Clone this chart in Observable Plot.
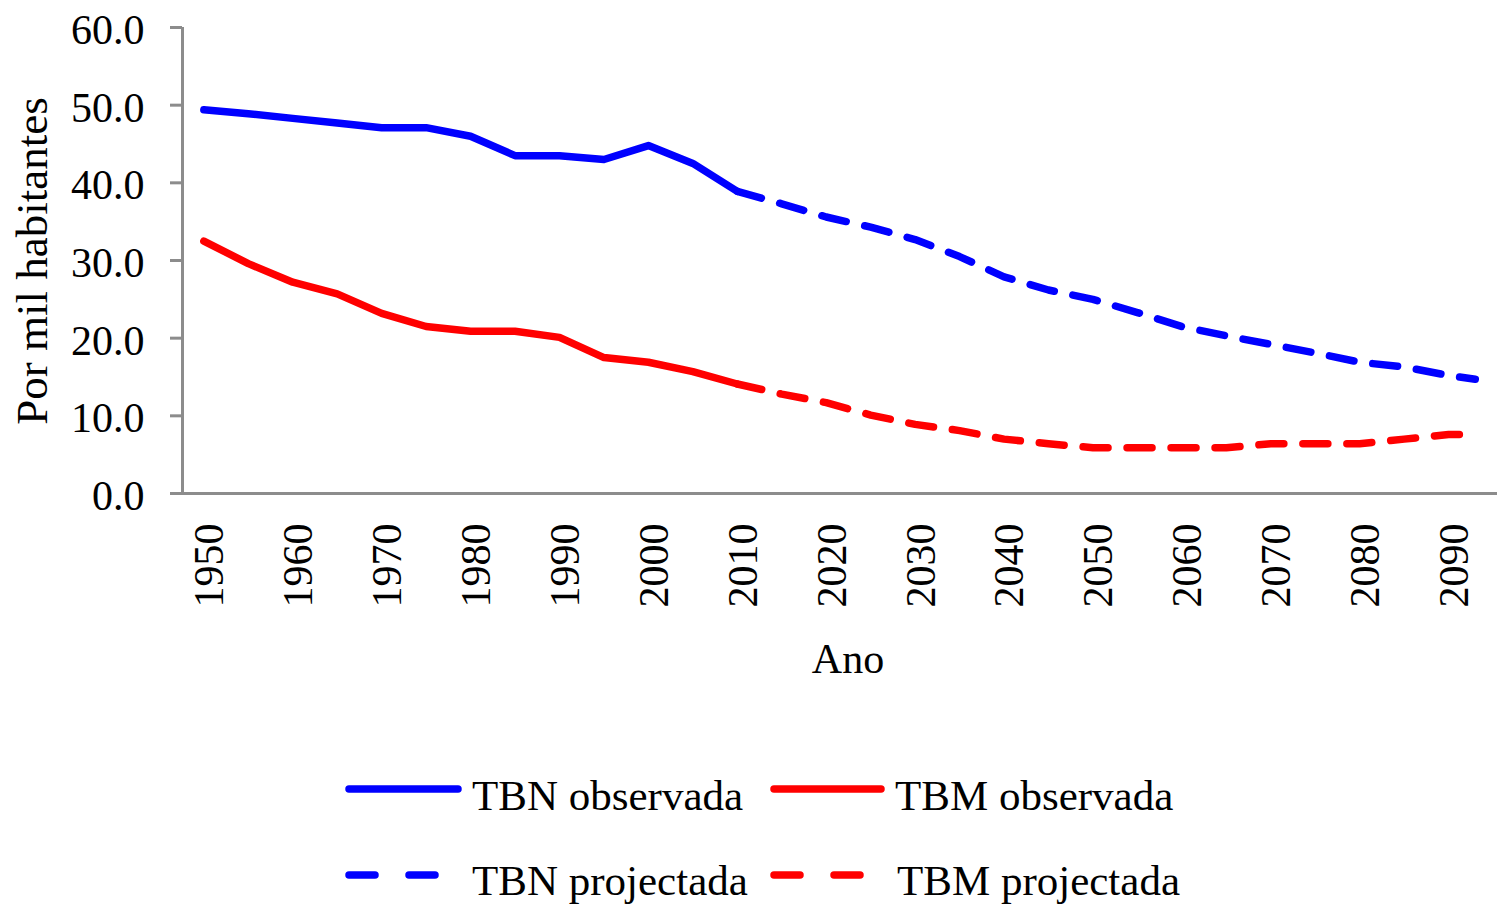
<!DOCTYPE html>
<html>
<head>
<meta charset="utf-8">
<script src="https://cdn.jsdelivr.net/npm/d3@7"></script>
<script src="https://cdn.jsdelivr.net/npm/@observablehq/plot@0.6"></script>
<style>
  html, body { margin: 0; padding: 0; background: #fff; }
  #wrap { position: relative; width: 1497px; height: 905px; font-family: "Liberation Serif", "Times New Roman", serif; }
  #legend { position: absolute; left: 0; top: 690px; }
</style>
</head>
<body>
<div id="wrap"><div id="chart"></div><svg id="legend" width="1497" height="215"></svg></div>
<script>
// ---- data ----
const yearsObs = [1950, 1955, 1960, 1965, 1970, 1975, 1980, 1985, 1990, 1995, 2000, 2005, 2010];
const tbnObs   = [49.4, 48.9, 48.3, 47.7, 47.1, 47.1, 46.0, 43.5, 43.5, 43.0, 44.8, 42.5, 38.9];
const tbmObs   = [32.5, 29.6, 27.2, 25.7, 23.2, 21.5, 20.9, 20.9, 20.1, 17.5, 16.9, 15.7, 14.1];

const yearsProj = [2010, 2015, 2020, 2025, 2030, 2035, 2040, 2045, 2050, 2055, 2060, 2065, 2070, 2075, 2080, 2085, 2090, 2093];
const tbnProj   = [38.9, 37.3, 35.6, 34.3, 32.7, 30.5, 27.9, 26.2, 25.0, 23.3, 21.5, 20.3, 19.2, 18.1, 16.9, 16.3, 15.2, 14.7];
const tbmProj   = [14.1, 12.8, 11.7, 10.1, 8.9, 8.1, 7.0, 6.4, 5.9, 5.9, 5.9, 5.9, 6.4, 6.4, 6.4, 7.0, 7.6, 7.6];

const xTicks = [1950, 1960, 1970, 1980, 1990, 2000, 2010, 2020, 2030, 2040, 2050, 2060, 2070, 2080, 2090];
const yTicks = [0, 10, 20, 30, 40, 50, 60];

const seriesNames = ["TBN observada", "TBM observada", "TBN projectada", "TBM projectada"];
const blue = "#0000ff", red = "#ff0000", axisGray = "#8c8c8c";

// ---- build tables ----
const obsTBN = yearsObs.map((y, i) => ({year: y, value: tbnObs[i]}));
const obsTBM = yearsObs.map((y, i) => ({year: y, value: tbmObs[i]}));
const projTBN = yearsProj.map((y, i) => ({year: y, value: tbnProj[i]}));
const projTBM = yearsProj.map((y, i) => ({year: y, value: tbmProj[i]}));

const font = '"Liberation Serif", "Times New Roman", serif';
const xDomain = [1947.6, 2095.5];
const lineW = 7.5;
const dash = "25,19";

const chart = Plot.plot({
  width: 1497,
  height: 690,
  marginLeft: 182,
  marginRight: 0,
  marginTop: 27,
  marginBottom: 197,
  style: {fontFamily: font, background: "white", overflow: "visible"},
  x: {domain: xDomain},
  y: {domain: [0, 60]},
  marks: [
    Plot.axisY({ticks: yTicks, tickSize: 12, tickPadding: 26, tickFormat: d3.format(".1f"),
      stroke: axisGray, strokeWidth: 3, fill: "black", fontSize: 42, label: null}),
    Plot.axisX({ticks: xTicks, tickSize: 0, tickPadding: 30, tickRotate: -90, tickFormat: d => String(d),
      fill: "black", fontSize: 42, label: null, dx: 6}),
    Plot.ruleY([0], {stroke: axisGray, strokeWidth: 3}),
    Plot.ruleX([xDomain[0]], {stroke: axisGray, strokeWidth: 3}),
    Plot.line(obsTBN, {x: "year", y: "value", stroke: blue, strokeWidth: lineW, strokeLinecap: "round", strokeLinejoin: "round"}),
    Plot.line(obsTBM, {x: "year", y: "value", stroke: red, strokeWidth: lineW, strokeLinecap: "round", strokeLinejoin: "round"}),
    Plot.line(projTBN, {x: "year", y: "value", stroke: blue, strokeWidth: lineW, strokeLinecap: "round", strokeLinejoin: "round", strokeDasharray: dash}),
    Plot.line(projTBM, {x: "year", y: "value", stroke: red, strokeWidth: lineW, strokeLinecap: "round", strokeLinejoin: "round", strokeDasharray: dash})
  ]
});
document.getElementById("chart").appendChild(chart);

// shift the y tick labels slightly down, as in the reference
d3.select(chart).selectAll('[aria-label="y-axis tick label"]').attr("transform", function() {
  const t = this.getAttribute("transform") || "";
  return t + " translate(0,3)";
});

// axis titles
const svg = d3.select(chart);
svg.append("text").attr("x", 848).attr("y", 673).attr("text-anchor", "middle")
  .attr("font-size", 42).attr("font-family", font).attr("fill", "black").text("Ano");
svg.append("text").attr("transform", "translate(47,261) rotate(-90)").attr("text-anchor", "middle")
  .attr("font-size", 45).attr("font-family", font).attr("fill", "black").text("Por mil habitantes");

// legend
const lg = d3.select("#legend");
const items = [
  {name: seriesNames[0], color: blue, dashed: false, x0: 349, x1: 458, ly: 99, tx: 472, ty: 120},
  {name: seriesNames[1], color: red, dashed: false, x0: 774, x1: 881, ly: 99, tx: 895, ty: 120},
  {name: seriesNames[2], color: blue, dashed: true, x0: 349, x1: 435, ly: 185, tx: 472, ty: 205},
  {name: seriesNames[3], color: red, dashed: true, x0: 774, x1: 860, ly: 185, tx: 897, ty: 205}
];
for (const it of items) {
  lg.append("line").attr("x1", it.x0).attr("x2", it.x1).attr("y1", it.ly).attr("y2", it.ly)
    .attr("stroke", it.color).attr("stroke-width", lineW).attr("stroke-linecap", "round")
    .attr("stroke-dasharray", it.dashed ? "26,34" : null);
  lg.append("text").attr("x", it.tx).attr("y", it.ty).attr("font-size", 43)
    .attr("font-family", font).attr("fill", "black").text(it.name);
}
</script>
</body>
</html>
